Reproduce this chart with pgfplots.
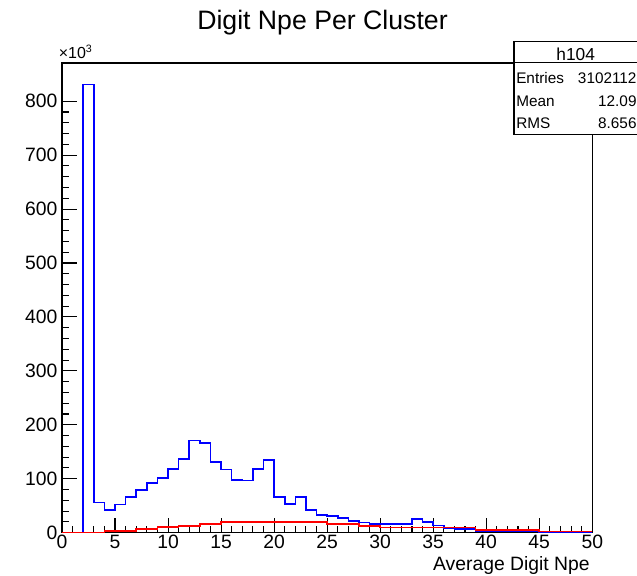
\documentclass[border=0pt]{standalone}
\usepackage{fontspec}
\setmainfont{Liberation Sans}
\usepackage{pgfplots}
\pgfplotsset{compat=1.18}
\definecolor{rootblue}{RGB}{0,0,255}
\definecolor{rootred}{RGB}{255,0,0}
\begin{document}
\begin{tikzpicture}
\useasboundingbox (-46.5pt,-32.5pt) rectangle (431.25pt,399.5pt);
\begin{axis}[
  at={(0,0)}, anchor=south west,
  scale only axis, width=397.7pt, height=352.3pt,
  xmin=0, xmax=50, ymin=0, ymax=871,
  xtick={0,5,...,50}, minor x tick num=4,
  ytick={0,100,...,800}, minor y tick num=4,
  tick align=inside, tick pos=left,
  major tick length=11pt, minor tick length=5.3pt,
  axis line style={line width=0.9pt},
  every tick/.style={line width=0.8pt, black},
  every minor tick/.style={line width=0.8pt, black},
  every tick label/.append style={font=\fontsize{14.5}{16}\selectfont},
  xticklabel style={yshift=2pt},
  /pgf/number format/assume math mode=true,
  scaled ticks=false,
]
\addplot[const plot, rootblue, line width=1.2pt] coordinates {
(2,0)(2,831)(3,55.7)(4,42)(5,52)(6,65.7)(7,79)(8,91.6)(9,101)(10,117.6)
(11,137)(12,170.7)(13,166)(14,131)(15,117)(16,98)(17,96.5)(18,117.6)(19,135)(20,65.7)
(21,53)(22,65.7)(23,42)(24,33)(25,31)(26,26.7)(27,22)(28,18.5)(29,15.6)(30,15.6)
(31,15.6)(32,15.6)(33,25)(34,20)(35,13)(36,8.7)(37,6.3)(38,6.3)(39,3)(40,3)
(41,3)(42,3)(43,3)(44,3)(45,1)(46,1)(47,1)(48,1)(49,1)(50,1)
};
\addplot[const plot, rootred, line width=1.2pt] coordinates {
(0,0)(4,3.1)(5,3.1)(6,3.1)(7,6.9)(8,6.9)(9,10)(10,10)(11,12.4)(12,12.4)
(13,16)(14,16)(15,19.5)(16,19.5)(17,19.5)(18,19.5)(19,19.5)(20,19.5)(21,19.5)(22,19.5)
(23,19.5)(24,19.5)(25,16)(26,16)(27,16)(28,12.4)(29,12.4)(30,9.5)(31,9.5)(32,9.5)
(33,9.5)(34,9.5)(35,9.5)(36,9.5)(37,9.5)(38,9.5)(39,5)(40,5)(41,5)(42,5)
(43,5)(44,5)(45,2)(46,2)(47,2)(48,2)(49,2)(50,2)
};
\end{axis}
\begin{scope}[x=0.75pt, y=0.75pt]
\node[font=\fontsize{20}{24}\selectfont] at (260.5,509.7) {Digit Npe Per Cluster};
\node[anchor=base east, inner sep=0, font=\fontsize{14.5}{16}\selectfont] at (528,-38) {Average Digit Npe};
\node[anchor=base west, inner sep=0, font=\fontsize{12}{14}\selectfont] at (-3.5,474.4) {×10\textsuperscript{3}};
\draw[line width=0.8pt, fill=white] (452,398.4) rectangle (590,491);
\draw[line width=0.8pt] (452,470) -- (590,470);
\node[font=\fontsize{13}{15}\selectfont, inner sep=0] at (513.7,478) {h104};
\node[anchor=west, inner sep=0, font=\fontsize{11.5}{13}\selectfont] at (454,454.4) {Entries};
\node[anchor=east, inner sep=0, font=\fontsize{11.5}{13}\selectfont] at (574.8,454.4) {3102112};
\node[anchor=west, inner sep=0, font=\fontsize{11.5}{13}\selectfont] at (454,431) {Mean};
\node[anchor=east, inner sep=0, font=\fontsize{11.5}{13}\selectfont] at (574.8,431) {12.09};
\node[anchor=west, inner sep=0, font=\fontsize{11.5}{13}\selectfont] at (454,409.4) {RMS};
\node[anchor=east, inner sep=0, font=\fontsize{11.5}{13}\selectfont] at (574.8,409.4) {8.656};
\end{scope}
\end{tikzpicture}
\end{document}
